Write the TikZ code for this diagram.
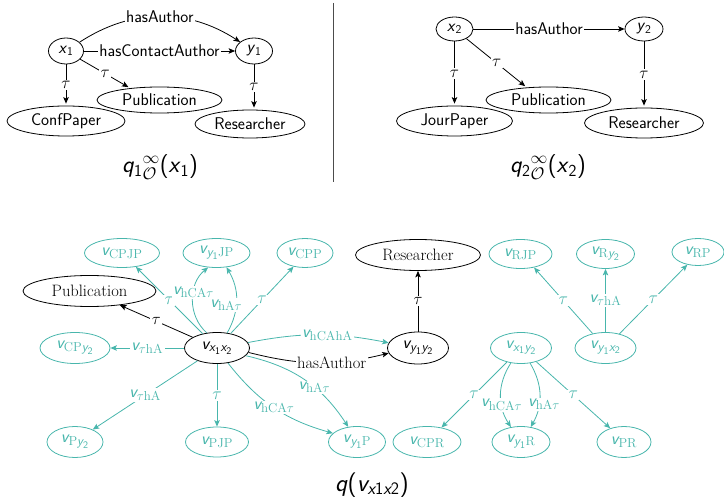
\RequirePackage{fix-cm}
\documentclass[tikz,border=0pt]{standalone}
\usepackage{amsmath}
\usetikzlibrary{shapes.geometric,arrows.meta}
\definecolor{tl}{RGB}{72,182,172}
% larger subscripts for the vertex names
\DeclareMathSizes{17.5}{17.5}{13}{10}
% sans-serif italic variable
\newcommand\sv[1]{\textsf{\itshape #1}}
\begin{document}
\begin{tikzpicture}[x=1pt,y=1pt,
  ell/.style={ellipse, draw, line width=0.8pt, inner sep=0pt},
  tfont/.style={font=\fontsize{17.5}{20}\selectfont},
  tnode/.style={ell, draw=tl, text=tl, minimum height=30, tfont},
  bnode/.style={ell, minimum height=31},
  arr/.style={line width=0.8pt, -{Stealth[length=6.5pt,width=5.5pt,inset=1.5pt]}},
  sarr/.style={arr, shorten >=2pt},
  tarr/.style={arr, draw=tl},
  lbl/.style={fill=white, inner sep=1.5pt},
  tlbl/.style={lbl, text=tl, tfont},
]
\useasboundingbox (0,0) rectangle (724,-497);

% ---------- left query ----------
\begin{scope}[font=\fontsize{17}{20}\selectfont\sffamily]
  \node[ell, minimum width=35, minimum height=26] (xa) at (66,-51) {\sv{x}$_{\textsf{1}}$};
  \node[ell, minimum width=37, minimum height=26] (ya) at (254,-51) {\sv{y}$_{\textsf{1}}$};
  \node[ell, minimum width=125, minimum height=26] (puba) at (159.5,-100) {Publication};
  \node[ell, minimum width=118, minimum height=30] (cpa) at (66,-121) {ConfPaper};
  \node[ell, minimum width=110, minimum height=28] (resa) at (250,-124) {Researcher};
  \node (capa) at (160,-167) {\fontsize{24}{28}\selectfont\sv{q}$_{\textsf{1}}{}^{\infty}_{\mathcal{O}}$(\sv{x}$_{\textsf{1}}$)};

  \draw[arr] (xa) to[bend left=33] node[lbl]{hasAuthor} (ya);
  \draw[arr] (xa) -- node[lbl]{hasContactAuthor} (ya);
  \draw[sarr] (xa) -- node[lbl]{$\tau$} (cpa);
  \draw[sarr] (xa) -- node[lbl]{$\tau$} (puba.158);
  \draw[sarr] (ya) -- node[lbl]{$\tau$} (resa.north -| ya);
\end{scope}

% separator
\draw[line width=0.8pt, black!70] (333,-3) -- (333,-182);

% ---------- right query ----------
\begin{scope}[font=\fontsize{17}{20}\selectfont\sffamily]
  \node[ell, minimum width=37, minimum height=24] (xb) at (454.5,-29) {\sv{x}$_{\textsf{2}}$};
  \node[ell, minimum width=38, minimum height=24] (yb) at (644,-29) {\sv{y}$_{\textsf{2}}$};
  \node[ell, minimum width=125, minimum height=26] (pubb2) at (548.5,-100) {Publication};
  \node[ell, minimum width=116, minimum height=30] (jpb) at (454.5,-121) {JourPaper};
  \node[ell, minimum width=119, minimum height=30] (resb2) at (644,-123) {Researcher};
  \node (capb) at (548,-167) {\fontsize{24}{28}\selectfont\sv{q}$_{\textsf{2}}{}^{\infty}_{\mathcal{O}}$(\sv{x}$_{\textsf{2}}$)};

  \draw[arr] (xb) -- node[lbl]{hasAuthor} (yb);
  \draw[sarr] (xb) -- node[lbl]{$\tau$} (jpb);
  \draw[sarr] (xb) -- node[lbl]{$\tau$} (pubb2.150);
  \draw[sarr] (yb) -- node[lbl]{$\tau$} (resb2);
\end{scope}

% ---------- product graph ----------
\begin{scope}[font=\fontsize{16.5}{19}\selectfont]
  % black nodes
  \node[bnode, minimum width=65, tfont] (vxx) at (217,-348) {$\sv{v}_{\sv{x}_{\textsf{1}}\sv{x}_{\textsf{2}}}$};
  \node[bnode, minimum width=133] (pubc) at (89.5,-291) {Publication};
  \node[bnode, minimum width=125] (resc) at (418,-255) {Researcher};
  \node[bnode, minimum width=61, minimum height=32, tfont] (vyy) at (418,-348) {$\sv{v}_{\sv{y}_{\textsf{1}}\sv{y}_{\textsf{2}}}$};

  % teal nodes
  \node[tnode, minimum width=75, minimum height=29] (vCPJP) at (122,-253) {$\sv{v}_{\mathrm{CPJP}}$};
  \node[tnode, minimum width=67, minimum height=29] (vyJP) at (216.5,-253) {$\sv{v}_{\sv{y}_{\textsf{1}}\mathrm{JP}}$};
  \node[tnode, minimum width=56, minimum height=29] (vCPP) at (305,-253) {$\sv{v}_{\mathrm{CPP}}$};
  \node[tnode, minimum width=70, minimum height=31] (vCPy) at (75,-348) {$\sv{v}_{\mathrm{CP}\sv{y}_{\textsf{2}}}$};
  \node[tnode, minimum width=56, minimum height=31] (vPy) at (75,-442) {$\sv{v}_{\mathrm{P}\sv{y}_{\textsf{2}}}$};
  \node[tnode, minimum width=63] (vPJP) at (217,-442) {$\sv{v}_{\mathrm{PJP}}$};
  \node[tnode, minimum width=57, minimum height=31] (vyP) at (357,-442) {$\sv{v}_{\sv{y}_{\textsf{1}}\mathrm{P}}$};
  \node[tnode, minimum width=68, minimum height=31] (vCPR) at (427,-442) {$\sv{v}_{\mathrm{CPR}}$};
  \node[tnode, minimum width=58, minimum height=31] (vyR) at (521,-442) {$\sv{v}_{\sv{y}_{\textsf{1}}\mathrm{R}}$};
  \node[tnode, minimum width=54, minimum height=31] (vPR) at (624,-442) {$\sv{v}_{\mathrm{PR}}$};
  \node[tnode, minimum width=61, minimum height=31] (vxy) at (521,-348) {$\sv{v}_{\sv{x}_{\textsf{1}}\sv{y}_{\textsf{2}}}$};
  \node[tnode, minimum width=61, minimum height=31] (vyx) at (605.5,-348) {$\sv{v}_{\sv{y}_{\textsf{1}}\sv{x}_{\textsf{2}}}$};
  \node[tnode, minimum width=63, minimum height=29] (vRJP) at (520.5,-254) {$\sv{v}_{\mathrm{RJP}}$};
  \node[tnode, minimum width=58, minimum height=29] (vRy) at (605.5,-254) {$\sv{v}_{\mathrm{R}\sv{y}_{\textsf{2}}}$};
  \node[tnode, minimum width=52, minimum height=27] (vRP) at (698,-252) {$\sv{v}_{\mathrm{RP}}$};

  \node (capc) at (372,-485) {\fontsize{25}{29}\selectfont\sv{q}\textsf{(}$\sv{v}_{\sv{x}\textsf{1}\sv{x}\textsf{2}}$\textsf{)}};

  % edges out of v_{x1x2}
  \draw[tarr] (vxx) -- node[tlbl]{$\tau$} (vCPJP.-45);
  \draw[tarr] (vxx.124) to[bend left=50] node[tlbl,pos=0.6]{$\sv{v}_{\mathrm{hCA}\tau}$} (vyJP.-120);
  \draw[tarr] (vxx.56) to[bend right=30] node[tlbl,pos=0.42,xshift=-10]{$\sv{v}_{\mathrm{hA}\tau}$} (vyJP.-55);
  \draw[tarr] (vxx) -- node[tlbl]{$\tau$} (vCPP.-130);
  \draw[arr] (vxx) -- node[lbl]{$\tau$} (pubc.-25);
  \draw[tarr] (vxx) -- node[tlbl]{$\sv{v}_{\tau\mathrm{hA}}$} (vCPy);
  \draw[tarr] (vxx) -- node[tlbl]{$\sv{v}_{\tau\mathrm{hA}}$} (vPy.35);
  \draw[tarr] (vxx) -- node[tlbl]{$\tau$} (vPJP);
  \draw[tarr] (vxx.-54) to[bend right=18] node[tlbl,pos=0.5]{$\sv{v}_{\mathrm{hCA}\tau}$} (vyP.160);
  \draw[tarr] (vxx.-15) to[bend left=22] node[tlbl,pos=0.6]{$\sv{v}_{\mathrm{hA}\tau}$} (vyP.120);
  \draw[tarr] (vxx.10) to[bend left=11] node[tlbl,pos=0.57]{$\sv{v}_{\mathrm{hCAhA}}$} (vyy.170);
  \draw[arr] (vxx.-8) to[bend right=14] node[lbl,pos=0.6]{hasAuthor} (vyy.-170);
  \draw[arr] (vyy) -- node[lbl]{$\tau$} (resc);

  % edges out of v_{x1y2}
  \draw[tarr] (vxy) -- node[tlbl]{$\tau$} (vCPR.45);
  \draw[tarr] (vxy.-124) to[bend right=33] node[tlbl,pos=0.65]{$\sv{v}_{\mathrm{hCA}\tau}$} (vyR.124);
  \draw[tarr] (vxy.-59) to[bend left=30] node[tlbl,pos=0.65,xshift=5]{$\sv{v}_{\mathrm{hA}\tau}$} (vyR.57);
  \draw[tarr] (vxy) -- node[tlbl]{$\tau$} (vPR.135);

  % edges out of v_{y1x2}
  \draw[tarr] (vyx) -- node[tlbl]{$\tau$} (vRJP.-45);
  \draw[tarr] (vyx) -- node[tlbl]{$\sv{v}_{\tau\mathrm{hA}}$} (vRy);
  \draw[tarr] (vyx) -- node[tlbl]{$\tau$} (vRP.-130);
\end{scope}
\end{tikzpicture}
\end{document}
